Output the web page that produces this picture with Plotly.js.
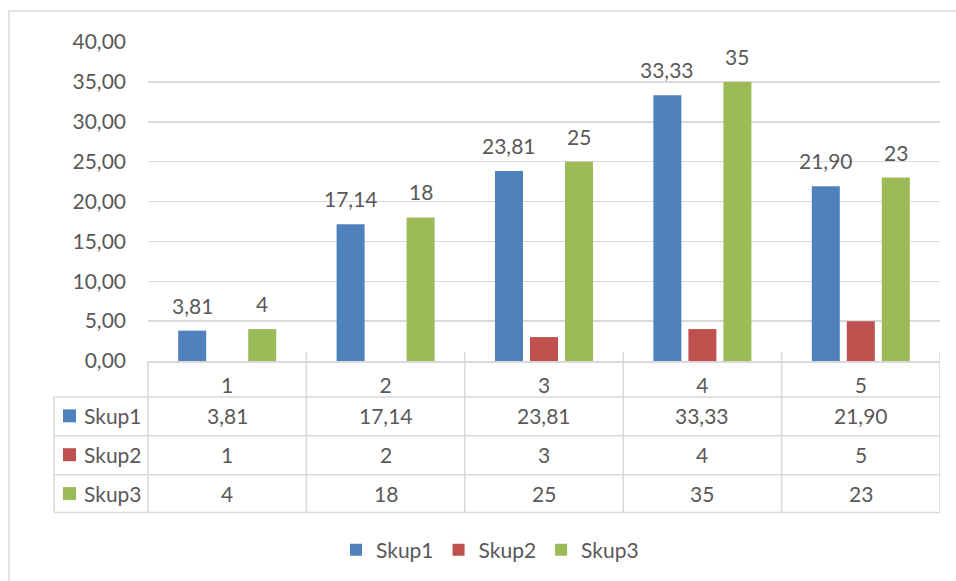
<!DOCTYPE html>
<html>
<head>
<meta charset="utf-8">
<script src="https://cdn.plot.ly/plotly-3.0.1.min.js"></script>
<style>html,body{margin:0;padding:0;background:#fff;}#chart{width:956px;height:581px;}</style>
</head>
<body>
<div id="chart"></div>
<script>
// ---- data ----
const categories = ["1", "2", "3", "4", "5"];
const seriesNames = ["Skup1", "Skup2", "Skup3"];
const skup1 = [3.81, 17.14, 23.81, 33.33, 21.90];
const skup2Bars = [null, null, 3, 4, 5];      // bars visible in the picture
const skup2Table = [1, 2, 3, 4, 5];           // values printed in the data table
const skup3 = [4, 18, 25, 35, 23];
const yTicks = [0, 5, 10, 15, 20, 25, 30, 35, 40];

// ---- style ----
const colors = ["#4f81bd", "#c0504d", "#9bbb59"];
const txt = "#595959";
const lineC = "#d9d9d9";
const FONT = "Lato, 'Open Sans', sans-serif";
const fs = 21;

function fmt2(v) { return v.toFixed(2).replace('.', ','); }
function fmt0(v) { return String(v); }

const traces = [
  {type: 'bar', name: seriesNames[0], x: categories, y: skup1, marker: {color: colors[0]}, hoverinfo: 'skip'},
  {type: 'bar', name: seriesNames[1], x: categories, y: skup2Bars, marker: {color: colors[1]}, hoverinfo: 'skip'},
  {type: 'bar', name: seriesNames[2], x: categories, y: skup3, marker: {color: colors[2]}, hoverinfo: 'skip'}
];

// pixel helpers for table (plot area: x 148..940, y 42..362)
const L = 148, R = 940, T = 42, B = 362;
const W = R - L, H = B - T;
const px = p => (p - L) / W;
const py = p => (B - p) / H;

const shapes = [];
const annotations = [];

// outer chart border
shapes.push({type: 'rect', xref: 'paper', yref: 'paper', x0: px(9), x1: px(975), y0: py(11), y1: py(600),
  line: {color: lineC, width: 1.5}, fillcolor: 'rgba(0,0,0,0)', layer: 'below'});

// table horizontal lines
const rowLines = [398, 437, 476, 514];
rowLines.forEach(yy => shapes.push({type: 'line', xref: 'paper', yref: 'paper', x0: px(54), x1: px(R), y0: py(yy), y1: py(yy), line: {color: lineC, width: 1.5}}));
// left verticals
shapes.push({type: 'line', xref: 'paper', yref: 'paper', x0: px(54), x1: px(54), y0: py(398), y1: py(514), line: {color: lineC, width: 1.5}});
shapes.push({type: 'line', xref: 'paper', yref: 'paper', x0: 0, x1: 0, y0: 0, y1: py(514), line: {color: lineC, width: 1.5}});
// category boundaries
for (let k = 1; k <= categories.length; k++) {
  shapes.push({type: 'line', xref: 'x', yref: 'paper', x0: k - 0.5, x1: k - 0.5, y0: py(353), y1: py(514), line: {color: lineC, width: 1.5}});
}

// table rows
const rowCenters = [417, 456, 495];
const tableRows = [skup1.map(fmt2), skup2Table.map(fmt0), skup3.map(fmt0)];
seriesNames.forEach((nm, r) => {
  const cy = rowCenters[r];
  shapes.push({type: 'rect', xref: 'paper', yref: 'paper', x0: px(63), x1: px(76), y0: py(cy - 6.5), y1: py(cy + 6.5), line: {width: 0}, fillcolor: colors[r]});
  annotations.push({xref: 'paper', yref: 'paper', x: px(82), y: py(cy), xanchor: 'left', yanchor: 'middle', text: nm, showarrow: false, font: {family: FONT, size: fs, color: txt}});
  tableRows[r].forEach((t, i) => {
    annotations.push({xref: 'x', yref: 'paper', x: i, y: py(cy), xanchor: 'center', yanchor: 'middle', text: t, showarrow: false, font: {family: FONT, size: fs, color: txt}});
  });
});

// data labels on Skup1 and Skup3
skup1.forEach((v, i) => annotations.push({xref: 'x', yref: 'y', x: i, y: v, xshift: -35, yshift: 11, xanchor: 'center', yanchor: 'bottom', text: fmt2(v), showarrow: false, font: {family: FONT, size: fs, color: txt}}));
skup3.forEach((v, i) => annotations.push({xref: 'x', yref: 'y', x: i, y: v, xshift: 35, yshift: 11, xanchor: 'center', yanchor: 'bottom', text: fmt0(v), showarrow: false, font: {family: FONT, size: fs, color: txt}}));

const layout = {
  width: 956, height: 581,
  margin: {l: L, r: 956 - R, t: T, b: 581 - B, pad: 0},
  paper_bgcolor: '#fff', plot_bgcolor: '#fff',
  separators: ', ',
  font: {family: FONT, size: fs, color: txt},
  barmode: 'group', bargap: 0.337, bargroupgap: 0.2,
  showlegend: true,
  legend: {orientation: 'h', xref: 'paper', yref: 'paper', x: px(490), y: py(550), xanchor: 'center', yanchor: 'middle',
    font: {family: FONT, size: fs, color: txt}, itemwidth: 30, traceorder: 'normal'},
  xaxis: {type: 'category', range: [-0.5, 4.5], showline: true, linecolor: lineC, linewidth: 1.5, ticks: '', showgrid: false,
    tickfont: {family: FONT, size: fs, color: txt}, ticklabelstandoff: 5, fixedrange: true},
  yaxis: {range: [0, 40], tickvals: yTicks, tickformat: '.2f', showgrid: true, gridcolor: lineC, gridwidth: 1.5, zeroline: false,
    showline: false, ticks: '', tickfont: {family: FONT, size: fs, color: txt}, ticklabelstandoff: 21, fixedrange: true},
  shapes: shapes,
  annotations: annotations
};

Plotly.newPlot('chart', traces, layout, {displayModeBar: false, staticPlot: true});
</script>
</body>
</html>
